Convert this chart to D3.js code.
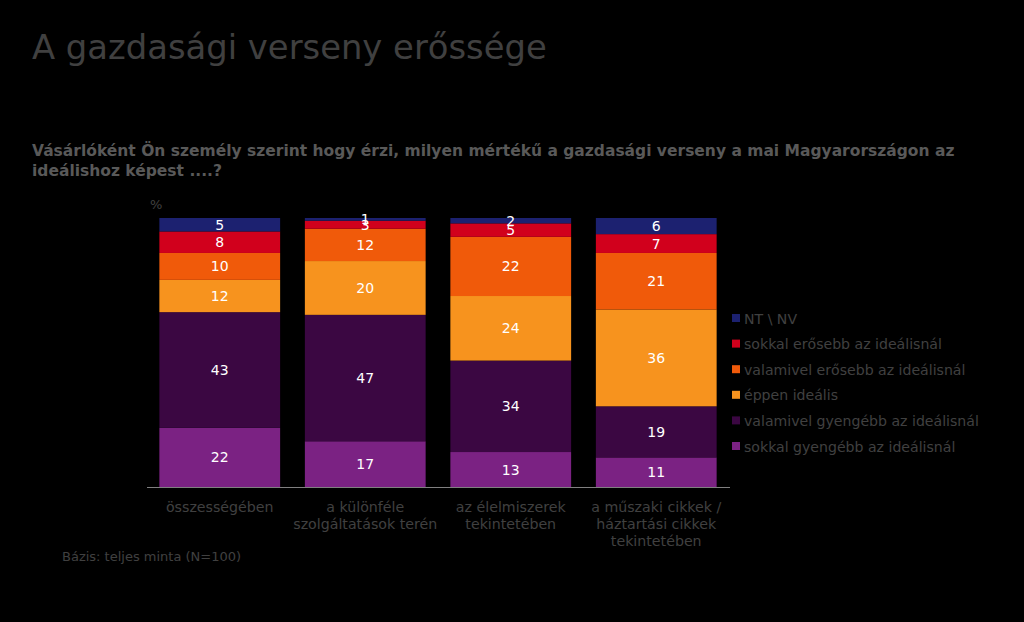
<!DOCTYPE html>
<html><head><meta charset="utf-8">
<script src="https://cdn.jsdelivr.net/npm/d3@7"></script>
<style>
html,body{margin:0;padding:0;background:#000;}
text{font-family:"DejaVu Sans",Verdana,sans-serif;}
</style></head>
<body>
<svg id="chart" width="1024" height="622"></svg>
<script>
const categories = [
  ["összességében"],
  ["a különféle", "szolgáltatások terén"],
  ["az élelmiszerek", "tekintetében"],
  ["a műszaki cikkek /", "háztartási cikkek", "tekintetében"]
];
const seriesNames = ["sokkal gyengébb az ideálisnál","valamivel gyengébb az ideálisnál","éppen ideális","valamivel erősebb az ideálisnál","sokkal erősebb az ideálisnál","NT \\ NV"];
const seriesColors = ["#7b2283","#3b0742","#f7931e","#f05a0a","#d1001c","#1c2170"];
const sokkalGyengebb = [22,17,13,11];
const valamivelGyengebb = [43,47,34,19];
const eppenIdealis = [12,20,24,36];
const valamivelErosebb = [10,12,22,21];
const sokkalErosebb = [8,3,5,7];
const ntnv = [5,1,2,6];
const seriesValues = [sokkalGyengebb,valamivelGyengebb,eppenIdealis,valamivelErosebb,sokkalErosebb,ntnv];

const svg = d3.select("#chart");
svg.append("rect").attr("width",1024).attr("height",622).attr("fill","#000");

svg.append("text").attr("x",32).attr("y",59).attr("fill","#404040")
  .style("font-size","33.8px").text("A gazdasági verseny erőssége");
svg.append("text").attr("x",32).attr("y",156).attr("fill","#595959")
  .style("font-size","15.5px").style("font-weight","bold")
  .text("Vásárlóként Ön személy szerint hogy érzi, milyen mértékű a gazdasági verseny a mai Magyarországon az");
svg.append("text").attr("x",32).attr("y",176).attr("fill","#595959")
  .style("font-size","15.5px").style("font-weight","bold")
  .text("ideálishoz képest ....?");

const plotTop = 218, plotBottom = 487;
const x = d3.scaleBand().domain(d3.range(categories.length)).range([147,729]).paddingInner(0.17).paddingOuter(0.085);
const y = d3.scaleLinear().domain([0,100]).range([plotBottom, plotTop]);

svg.append("text").attr("x",150).attr("y",209).attr("fill","#404040").style("font-size","13px").text("%");

const stackData = categories.map((c,i)=>{const o={i}; seriesValues.forEach((s,k)=>o[k]=s[i]); return o;});
const stack = d3.stack().keys(d3.range(seriesNames.length))(stackData);

const g = svg.append("g");
stack.forEach((layer,k)=>{
  g.selectAll(null).data(layer).enter().append("rect")
    .attr("x",d=>x(d.data.i)).attr("width",x.bandwidth())
    .attr("y",d=>y(d[1])).attr("height",d=>y(d[0])-y(d[1]))
    .attr("fill",seriesColors[k]);
});
stack.forEach((layer,k)=>{
  g.selectAll(null).data(layer).enter().append("text")
    .attr("x",d=>x(d.data.i)+x.bandwidth()/2)
    .attr("y",d=>(y(d[0])+y(d[1]))/2+5)
    .attr("text-anchor","middle").attr("fill","#fff").style("font-size","14px")
    .text(d=>d[1]-d[0]);
});

svg.append("line").attr("x1",147).attr("x2",730).attr("y1",plotBottom+0.5).attr("y2",plotBottom+0.5)
  .attr("stroke","#808080").attr("stroke-width",1);

categories.forEach((lines,i)=>{
  lines.forEach((t,j)=>{
    svg.append("text").attr("x",x(i)+x.bandwidth()/2).attr("y",512+j*17)
      .attr("text-anchor","middle").attr("fill","#404040").style("font-size","14.2px").text(t);
  });
});

const legendOrder = d3.range(seriesNames.length).reverse();
legendOrder.forEach((k,j)=>{
  const ly = 319 + j*25.6;
  svg.append("rect").attr("x",732).attr("y",ly-5).attr("width",8).attr("height",8).attr("fill",seriesColors[k]);
  svg.append("text").attr("x",744).attr("y",ly+4.5).attr("fill","#404040").style("font-size","14.1px").text(seriesNames[k]);
});

svg.append("text").attr("x",62).attr("y",561).attr("fill","#404040").style("font-size","13px").text("Bázis: teljes minta (N=100)");
</script>
</body></html>
